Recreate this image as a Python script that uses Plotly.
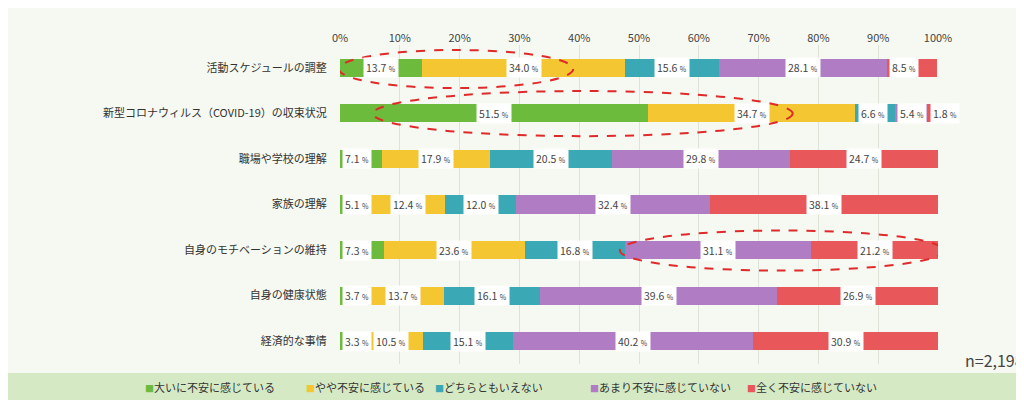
import plotly.graph_objects as go

categories = ["活動スケジュールの調整", "新型コロナウィルス（COVID-19）の収束状況", "職場や学校の理解",
              "家族の理解", "自身のモチベーションの維持", "自身の健康状態", "経済的な事情"]
series_names = ["大いに不安に感じている", "やや不安に感じている", "どちらともいえない",
                "あまり不安に感じていない", "全く不安に感じていない"]
v_very = [13.7, 51.5, 7.1, 5.1, 7.3, 3.7, 3.3]
v_some = [34.0, 34.7, 17.9, 12.4, 23.6, 13.7, 10.5]
v_neutral = [15.6, 6.6, 20.5, 12.0, 16.8, 16.1, 15.1]
v_little = [28.1, 5.4, 29.8, 32.4, 31.1, 39.6, 40.2]
v_none = [8.5, 1.8, 24.7, 38.1, 21.2, 26.9, 30.9]
colors = ["#6cbb3c", "#f3c632", "#3aa9b5", "#b07cc4", "#e8575a"]
tick_vals = [0, 10, 20, 30, 40, 50, 60, 70, 80, 90, 100]
tick_text = [f"{t}%" for t in tick_vals]

all_series = [v_very, v_some, v_neutral, v_little, v_none]
ypos = list(range(len(categories)))

fig = go.Figure()
for name, vals, c in zip(series_names, all_series, colors):
    fig.add_trace(go.Bar(y=ypos, x=vals, orientation="h", name=name, showlegend=False,
                         marker=dict(color=c, line=dict(width=0)), width=0.4))

annotations = []
for i in ypos:
    cum = 0
    for vals in all_series:
        v = vals[i]
        if v < 9:
            ax, anc = cum + 0.4, "left"
        else:
            ax, anc = cum + v / 2, "center"
        annotations.append(dict(x=ax, y=i, xref="x", yref="y", showarrow=False, xanchor=anc,
                                text=f"{v:.1f} <span style='font-size:7px'>%</span>",
                                bgcolor="white", font=dict(size=10.5, color="#444"),
                                borderpad=2))
        cum += v
annotations.append(dict(x=1018/1024, y=1-352/400, xref="paper", yref="paper", text="n=2,198",
                        showarrow=False, font=dict(size=16, color="#444"),
                        xanchor="right", yanchor="middle"))
legend_x = [135, 296, 425, 580, 737]
for lx, name, c in zip(legend_x, series_names, colors):
    annotations.append(dict(x=lx/1024, y=1-379/400, xref="paper", yref="paper", showarrow=False,
                            xanchor="left", yanchor="middle",
                            text=f"<span style='color:{c};font-size:9px'>■</span>{name}",
                            font=dict(size=11, color="#333")))

shapes = [
    dict(type="rect", xref="paper", yref="paper", x0=0, x1=1, y0=0, y1=35/400,
         fillcolor="#d5eac4", line=dict(width=0), layer="below"),
]
for x0, x1, y0, y1 in [(-0.2, 39, -0.39, 0.445), (5.5, 75.7, 0.51, 1.5), (46.8, 101, 3.57, 4.45)]:
    shapes.append(dict(type="circle", xref="x", yref="y", x0=x0, x1=x1, y0=y0, y1=y1,
                       line=dict(color="#e02a2a", width=2, dash="dash")))

fig.update_layout(
    barmode="stack", width=1024, height=400,
    margin=dict(l=0, r=0, t=0, b=0, autoexpand=False),
    paper_bgcolor="#f6f9f1", plot_bgcolor="#f6f9f1",
    font=dict(family="Noto Sans CJK JP", color="#333"),
    xaxis=dict(domain=[332/1024, 930/1024], range=[0, 100], side="top", tickvals=tick_vals,
               ticktext=tick_text, showgrid=True, gridcolor="#dde3d6", zeroline=False,
               tickfont=dict(size=11, color="#444"), showline=False, automargin=False),
    yaxis=dict(domain=[1-356/400, 1-37/400], range=[6.5, -0.5], tickvals=ypos, ticktext=categories,
               showgrid=False, zeroline=False, tickfont=dict(size=11, color="#333"),
               ticks="outside", ticklen=10, tickcolor="rgba(0,0,0,0)", automargin=False),
    annotations=annotations, shapes=shapes, showlegend=False,
)
fig.write_html("out.html")
